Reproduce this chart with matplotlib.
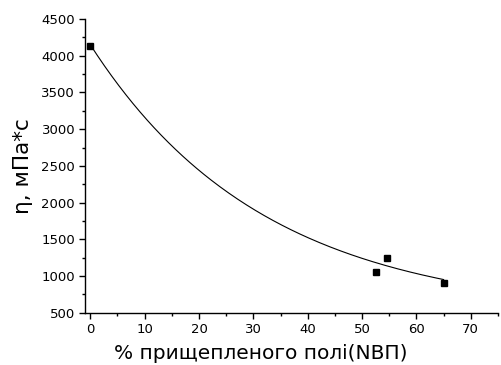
import numpy as np
import matplotlib
matplotlib.use("Agg")
import matplotlib.pyplot as plt
from matplotlib.ticker import MultipleLocator

plt.rcParams['font.family'] = ['DejaVu Sans']

# measured data points
x_pts = [0, 52.5, 54.5, 65]
y_pts = [4130, 1060, 1250, 910]

# exponential decay fit parameters (y = y0 + A*exp(-x/t))
fit_y0 = 470
fit_A = 3680
fit_t = 32.0
fit_xmin, fit_xmax = 0, 65

fig = plt.figure(figsize=(5.02, 3.65), dpi=100)
ax = fig.add_axes([0.169, 0.143, 0.823, 0.805])

xf = np.linspace(fit_xmin, fit_xmax, 200)
yf = fit_y0 + fit_A * np.exp(-xf / fit_t)
ax.plot(xf, yf, color='black', lw=0.8)
ax.plot(x_pts, y_pts, 's', color='black', ms=4.5, zorder=3)

ax.set_xlim(-1, 75)
ax.set_ylim(500, 4500)
ax.xaxis.set_major_locator(MultipleLocator(10))
ax.xaxis.set_minor_locator(MultipleLocator(5))
ax.yaxis.set_major_locator(MultipleLocator(500))
ax.yaxis.set_minor_locator(MultipleLocator(250))
ax.spines['top'].set_visible(False)
ax.spines['right'].set_visible(False)
for s in ['left', 'bottom']:
    ax.spines[s].set_linewidth(1.0)
ax.tick_params(which='major', direction='out', length=4, width=1, labelsize=9.5, pad=3)
ax.tick_params(which='minor', direction='out', length=2.5, width=1)

ax.set_xlabel('% прищепленого полі(NВП)', fontsize=14.5, labelpad=5)
ax.xaxis.set_label_coords(0.426, -0.105)
ax.set_ylabel('η, мПа*с', fontsize=15.5, labelpad=6)

fig.savefig('out.png', dpi=100)
